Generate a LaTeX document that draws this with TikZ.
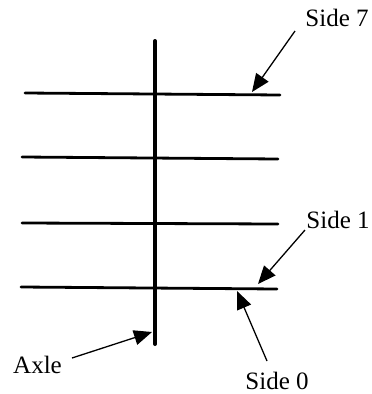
\documentclass[tikz,border=0pt]{standalone}
\usepackage{fontspec}
\setmainfont{Liberation Serif}
\usetikzlibrary{arrows.meta}
\begin{document}
\begin{tikzpicture}[x=1pt,y=-1pt,
  rung/.style={line width=2.8pt,line cap=round},
  axle/.style={line width=4pt,line cap=round},
  pointer/.style={line width=1.3pt,-{Triangle[length=18pt,width=15pt]}},
  lbl/.style={font=\fontsize{25}{30}\selectfont,anchor=base,inner sep=0pt}]
\useasboundingbox (0,0) rectangle (372,394);
% axle
\coordinate (axT) at (155,41);
\coordinate (axB) at (155,344);
\draw[axle] (axT) -- (axB);
% rungs
\coordinate (r7l) at (25,93);  \coordinate (r7r) at (280,95);
\coordinate (r2l) at (22,157); \coordinate (r2r) at (278,159);
\coordinate (r3l) at (22,223); \coordinate (r3r) at (278,224);
\coordinate (r1l) at (21,287); \coordinate (r1r) at (277,289);
\draw[rung] (r7l) -- (r7r);
\draw[rung] (r2l) -- (r2r);
\draw[rung] (r3l) -- (r3r);
\draw[rung] (r1l) -- (r1r);
% labels
\node[lbl] (s7) at (337,26) {Side 7};
\node[lbl] (s1) at (338,228) {Side 1};
\node[lbl] (s0) at (277,389) {Side 0};
\node[lbl] (ax) at (37.5,373) {Axle};
% arrow ends
\coordinate (s7t) at (295,31);  \coordinate (s7h) at (252,92);
\coordinate (s1t) at (305,230); \coordinate (s1h) at (258,284);
\coordinate (s0t) at (267,361); \coordinate (s0h) at (237,291);
\coordinate (axt) at (72,358);  \coordinate (axh) at (152,332);
\draw[pointer] (s7t) -- (s7h);
\draw[pointer] (s1t) -- (s1h);
\draw[pointer] (s0t) -- (s0h);
\draw[pointer] (axt) -- (axh);
\end{tikzpicture}
\end{document}
